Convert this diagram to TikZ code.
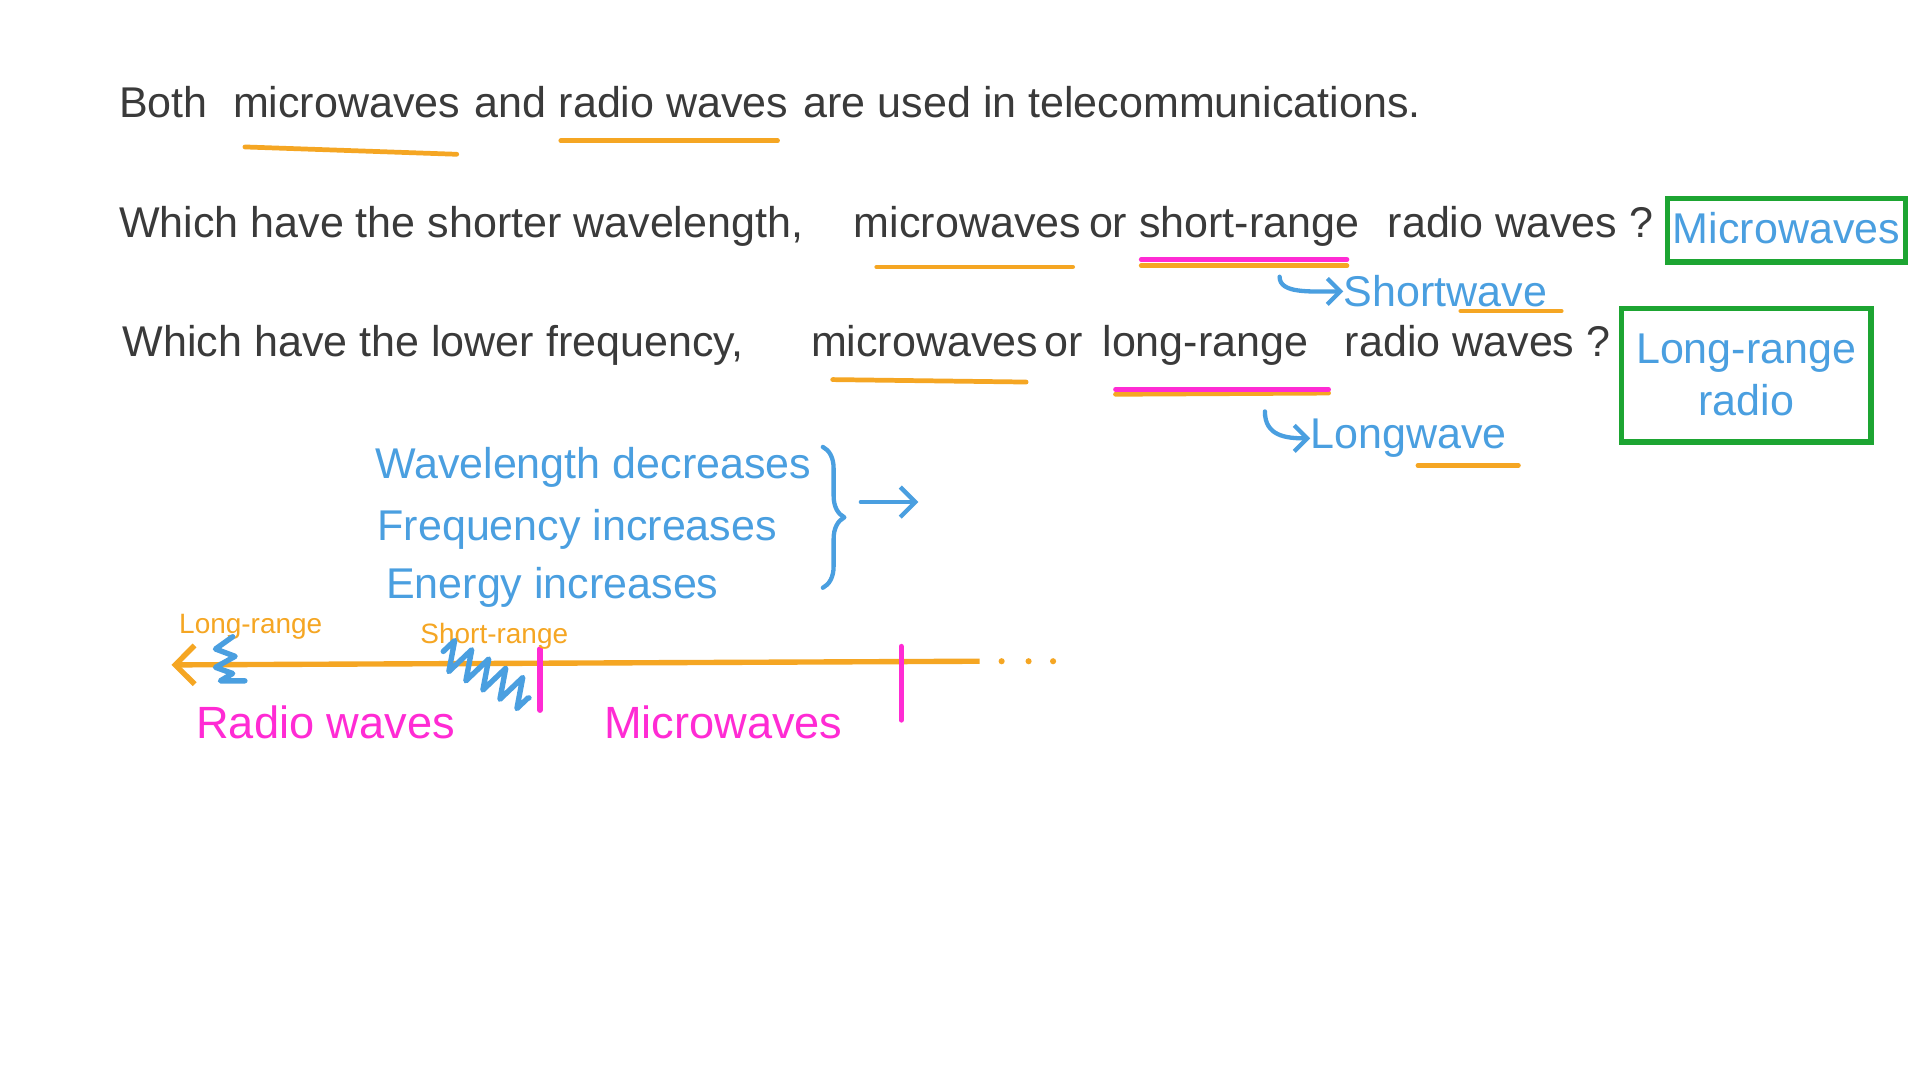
\documentclass[tikz,border=0pt]{standalone}
\usepackage{fontspec}
\setmainfont{Liberation Sans}
\usetikzlibrary{arrows.meta,decorations.pathreplacing,decorations.pathmorphing}
\definecolor{tx}{HTML}{3A3A3A}
\definecolor{org}{HTML}{F5A623}
\definecolor{blu}{HTML}{4A9FE0}
\definecolor{pnk}{HTML}{FF2BD4}
\definecolor{grn}{HTML}{1DA532}
\tikzset{
 main/.style={anchor=base west,text=tx,font=\fontsize{20}{24}\selectfont,inner sep=0},
 bl/.style={anchor=west,text=blu,font=\fontsize{20}{24}\selectfont,inner sep=0},
 pk/.style={anchor=west,text=pnk,font=\fontsize{21}{24}\selectfont,inner sep=0},
 sm/.style={anchor=west,text=org,font=\fontsize{13}{14}\selectfont,inner sep=0},
 ul/.style={draw=org,line width=2.2pt,line cap=round},
 ulp/.style={draw=pnk,line width=2.2pt,line cap=round},
 gbox/.style={draw=grn,line width=2.5pt},
 bln/.style={draw=blu,line width=2pt,line cap=round,line join=round}
}
\begin{document}
\begin{tikzpicture}[x=0.02cm,y=-0.02cm]
\useasboundingbox (0,0) rectangle (1568,882);
\fill[white] (0,0) rectangle (1568,882);
% line 1
\node[main] (l1a) at (97,96) {Both};
\node[main] (l1b) at (190,96) {microwaves};
\node[main] (l1c) at (387,96) {and};
\node[main] (l1d) at (456,96) {radio waves};
\node[main] (l1e) at (656,96) {are used in telecommunications.};
% line 2
\node[main] (l2a) at (97,194) {Which have the shorter wavelength,};
\node[main] (l2b) at (697,194) {microwaves};
\node[main] (l2c) at (889,194) {or};
\node[main] (l2d) at (930,194) {short-range};
\node[main] (l2e) at (1133,194) {radio waves ?};
% line 3
\node[main] (l3a) at (100,291) {Which have the lower frequency,};
\node[main] (l3b) at (662,291) {microwaves};
\node[main] (l3c) at (853,291) {or};
\node[main] (l3d) at (900,291) {long-range};
\node[main] (l3e) at (1098,291) {radio waves ?};
\draw[ul] (200,120)--(373,126); \draw[ul] (458,115)--(635,115);
\draw[ul] (716,218)--(876,218); \draw[ul] (932,217)--(1100,217); \draw[ulp] (932,212)--(1100,212);
\draw[ul] (680,310)--(838,312); \draw[ul] (911,322)--(1085,321); \draw[ulp] (911,318)--(1085,318);
\draw[gbox] (1362,162) rectangle (1556,214);
\node[text=blu,font=\fontsize{20}{24}\selectfont,inner sep=0] (a1) at (1459,186) {Microwaves};
\draw[gbox] (1324,252) rectangle (1528,361);
\node[text=blu,font=\fontsize{20}{24}\selectfont,align=center,inner sep=0] (a2) at (1426,306) {Long-range\\radio};
\node[bl] (sw) at (1097,238) {Shortwave};
\draw[bln,-{Straight Barb[length=6pt]}] (1045,226) .. controls (1045,240) and (1070,238) .. (sw.west);
\draw[ul] (1193,254)--(1275,254);
\node[bl] (lw) at (1070,358) {Longwave};
\draw[bln,-{Straight Barb[length=6pt]}] (1033,336) .. controls (1033,356) and (1050,358) .. (lw.west);
\draw[ul] (1158,380)--(1240,380);
\node[bl] (t1) at (306,382) {Wavelength decreases};
\node[bl] (t2) at (308,432) {Frequency increases};
\node[bl] (t3) at (315,480) {Energy increases};
\draw[bln,decorate,decoration={brace,amplitude=10pt}] (672,365)--(672,480);
\coordinate (ar0) at (703,410); \coordinate (ar1) at (750,410);
\draw[bln,-{Straight Barb[length=7pt]}] (ar0)--(ar1);
\coordinate (ax0) at (140,543); \coordinate (ax1) at (800,540);
\draw[draw=org,line width=2.5pt,-{Straight Barb[length=9pt]}] (ax1)--(ax0);
\foreach \x in {818,840,860} \fill[org] (\x,540) circle (2.5);
\draw[ulp,line width=2.5pt] (441,530)--(441,580);
\draw[ulp,line width=2.5pt] (736,528)--(736,588);
\node[sm] (lr) at (146,512) {Long-range};
\node[sm] (sr) at (343,520) {Short-range};
\draw[bln,line width=2.5pt] (190,520)--(176,530)--(192,536)--(176,545)--(190,550)--(180,556)--(200,556);
\draw[bln,line width=2.5pt,decorate,decoration={zigzag,amplitude=7,segment length=9}] (362,532)--(432,570);
\node[pk] (rw) at (160,590) {Radio waves};
\node[pk] (mw) at (493,590) {Microwaves};
\end{tikzpicture}
\end{document}
